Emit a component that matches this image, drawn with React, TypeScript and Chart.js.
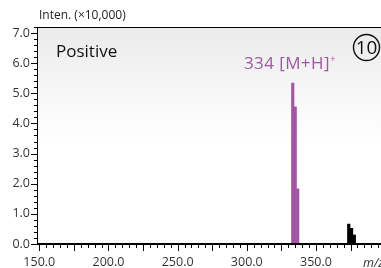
import React, { useEffect, useRef } from "react";
import { Chart, registerables } from "chart.js";

Chart.register(...registerables);

// ---- data ----
const xTickValues = [150, 200, 250, 300, 350];
const yTickValues = [0, 1, 2, 3, 4, 5, 6, 7];
const purplePeaksMz = [333.2, 335.0, 336.8];
const purplePeaksInten = [5.34, 4.55, 1.83];
const blackPeaksMz = [373.7, 375.7, 377.7];
const blackPeaksInten = [0.66, 0.52, 0.3];
const xMin = 149.06;
const xMax = 397.0;
const yMin = 0;
const yMax = 7.2;
const xMinorStep = 5;
const xMidStep = 25;
const yMinorStep = 0.2;
const yMajorStep = 1;
const titleText = "Inten. (×10,000)";
const modeText = "Positive";
const peakLabel = "334 [M+H]";
const peakLabelSup = "+";
const panelNumber = "10";
const xAxisTitle = "m/z";

const PURPLE = "#a156a3";
const FONT = '"Open Sans", "DejaVu Sans", sans-serif';

const decorPlugin = {
  id: "decor",
  beforeDatasetsDraw(chart: any) {
    const { ctx, chartArea: a } = chart;
    const g = ctx.createLinearGradient(0, a.top, 0, a.top + 115);
    g.addColorStop(0, "#ebebeb");
    g.addColorStop(1, "#ffffff");
    ctx.save();
    ctx.fillStyle = g;
    ctx.fillRect(a.left, a.top, a.right - a.left, a.bottom - a.top);
    ctx.restore();
  },
  afterDraw(chart: any) {
    const { ctx, chartArea: a } = chart;
    const xs = chart.scales.x;
    const ys = chart.scales.y;
    ctx.save();
    ctx.strokeStyle = "#000";
    // top border
    ctx.lineWidth = 1;
    ctx.beginPath();
    ctx.moveTo(a.left - 0.5, a.top + 0.5);
    ctx.lineTo(a.right, a.top + 0.5);
    ctx.stroke();
    // left axis
    ctx.beginPath();
    ctx.moveTo(a.left - 0.5, a.top);
    ctx.lineTo(a.left - 0.5, a.bottom + 1);
    ctx.stroke();
    // y ticks
    for (let v = yMin; v <= yMax + 1e-9; v += yMinorStep) {
      const y = Math.round(ys.getPixelForValue(v)) + 0.5;
      const isMajor = Math.abs(v / yMajorStep - Math.round(v / yMajorStep)) < 1e-6;
      const len = isMajor ? 6 : 3;
      ctx.beginPath();
      ctx.moveTo(a.left - 1, y);
      ctx.lineTo(a.left - 1 - len, y);
      ctx.stroke();
    }
    // x ticks
    const start = Math.ceil(xMin / xMinorStep) * xMinorStep;
    for (let v = start; v <= xMax; v += xMinorStep) {
      const x = Math.round(xs.getPixelForValue(v)) + 0.5;
      const isMid = v % xMidStep === 0;
      const len = isMid ? 6 : 3;
      ctx.beginPath();
      ctx.moveTo(x, a.bottom + 1);
      ctx.lineTo(x, a.bottom + 1 + len);
      ctx.stroke();
    }
    // bottom axis (thick baseline)
    ctx.lineWidth = 2;
    ctx.beginPath();
    ctx.moveTo(a.left - 1, a.bottom);
    ctx.lineTo(a.right, a.bottom);
    ctx.stroke();

    // texts
    ctx.textBaseline = "alphabetic";
    ctx.textAlign = "left";
    ctx.fillStyle = "#222";
    ctx.font = `12px ${FONT}`;
    ctx.fillText(titleText, a.left + 1, 19);

    ctx.fillStyle = "#111";
    ctx.font = `500 17px ${FONT}`;
    ctx.fillText(modeText, 56, 56.5);

    ctx.fillStyle = PURPLE;
    ctx.font = `17px ${FONT}`;
    (ctx as any).letterSpacing = "0.4px";
    ctx.fillText(peakLabel, 244, 68.5);
    const w = ctx.measureText(peakLabel).width;
    (ctx as any).letterSpacing = "0px";
    ctx.font = `9px ${FONT}`;
    ctx.fillText(peakLabelSup, 244 + w + 0.5, 62);

    // circled number
    ctx.strokeStyle = "#111";
    ctx.lineWidth = 1.4;
    ctx.beginPath();
    ctx.arc(366.5, 47.5, 13, 0, Math.PI * 2);
    ctx.stroke();
    ctx.fillStyle = "#111";
    ctx.font = `19px ${FONT}`;
    ctx.textAlign = "center";
    ctx.textBaseline = "middle";
    ctx.fillText(panelNumber, 366.5, 48.5);

    // x axis title
    ctx.textAlign = "left";
    ctx.textBaseline = "alphabetic";
    ctx.fillStyle = "#333";
    ctx.font = `italic 12.5px ${FONT}`;
    ctx.fillText(xAxisTitle, 363, 267);
    ctx.restore();
  },
};

export default function App() {
  const ref = useRef<HTMLCanvasElement | null>(null);
  useEffect(() => {
    if (!ref.current) return;
    const chart = new Chart(ref.current, {
      type: "bar",
      data: {
        datasets: [
          {
            data: purplePeaksMz.map((x, i) => ({ x, y: purplePeaksInten[i] })),
            backgroundColor: PURPLE,
            borderWidth: 0,
            barThickness: 2.5,
            grouped: false,
          } as any,
          {
            data: blackPeaksMz.map((x, i) => ({ x, y: blackPeaksInten[i] })),
            backgroundColor: "#000",
            borderWidth: 0,
            barThickness: 2.6,
            grouped: false,
          } as any,
        ],
      },
      options: {
        animation: false,
        responsive: false,
        maintainAspectRatio: false,
        layout: { padding: { top: 27, left: 0, right: 0, bottom: 0 } },
        plugins: { legend: { display: false }, tooltip: { enabled: false } },
        scales: {
          x: {
            type: "linear",
            min: xMin,
            max: xMax,
            offset: false,
            grid: { display: false, drawTicks: false, offset: false },
            border: { display: false },
            afterBuildTicks: (s: any) => {
              s.ticks = xTickValues.map((v) => ({ value: v }));
            },
            afterFit: (s: any) => {
              s.height = 24;
            },
            ticks: {
              padding: 11,
              maxRotation: 0,
              autoSkip: false,
              color: "#333",
              font: { family: FONT, size: 12.5 },
              callback: (v: any) => Number(v).toFixed(1),
            },
          },
          y: {
            min: yMin,
            max: yMax,
            grid: { display: false, drawTicks: false },
            border: { display: false },
            afterBuildTicks: (s: any) => {
              s.ticks = yTickValues.map((v) => ({ value: v }));
            },
            afterFit: (s: any) => {
              s.width = 38;
            },
            ticks: {
              padding: 8,
              autoSkip: false,
              color: "#333",
              font: { family: FONT, size: 12.5 },
              callback: (v: any) => Number(v).toFixed(1),
            },
          },
        },
      },
      plugins: [decorPlugin],
    });
    return () => chart.destroy();
  }, []);
  return (
    <div style={{ position: "absolute", left: 0, top: 0, width: 381, height: 268 }}>
      <canvas ref={ref} width={381} height={268} style={{ display: "block", width: 381, height: 268 }} />
    </div>
  );
}
